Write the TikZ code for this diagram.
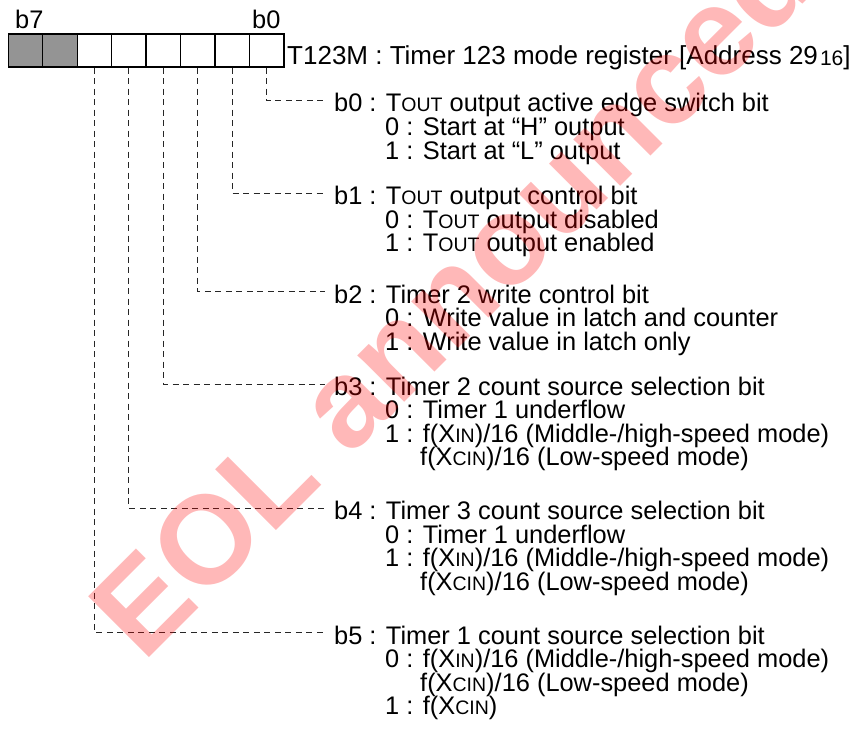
\documentclass[tikz,border=0pt]{standalone}
\usepackage{fontspec}
\setmainfont{Liberation Sans}
\newcommand\smc[1]{{\fontsize{19.5}{19.5}\selectfont #1}}
\begin{document}
\begin{tikzpicture}[x=1pt,y=-1pt,
  cell/.style={draw, line width=1.3pt, minimum width=34.46pt, minimum height=33pt, inner sep=0pt},
  txt/.style={inner sep=0pt, anchor=base west, font=\fontsize{25.4}{28}\selectfont},
  lead/.style={draw=black!85, line width=1pt, dash pattern=on 6pt off 4.5pt},
  wmark/.style={inner sep=0pt, anchor=base west, rotate=45, text=red, opacity=0.28,
    font=\fontsize{125}{125}\selectfont\bfseries}
]
\useasboundingbox (0,0) rectangle (856,733);

% register cells
\foreach \i/\b in {0/7,1/6} {
  \node[cell, fill=black!42] (c\b) at ({8.3+34.46*(\i+0.5)},50.5) {};
}
\foreach \i/\b in {2/5,3/4,4/3,5/2,6/1,7/0} {
  \node[cell, fill=white] (c\b) at ({8.3+34.46*(\i+0.5)},50.5) {};
}
\node[txt] (lb7) at (15,29) {b7};
\node[txt] (lb0) at (252,29) {b0};
\node[txt, font=\fontsize{26}{28}\selectfont] (title) at (287,65) {T123M : Timer 123 mode register [Address 29\kern2pt\raisebox{-1pt}{\fontsize{21}{21}\selectfont 16}]};

% ends of leaders
\coordinate (e0) at (325,101);
\coordinate (e1) at (325,193.3);
\coordinate (e2) at (325,291.7);
\coordinate (e3) at (325,384);
\coordinate (e4) at (325,508.3);
\coordinate (e5) at (325,632.7);
\foreach \b in {0,...,5} { \draw[lead] (c\b.south) |- (e\b); }

% b0
\node[txt] (h0) at (334,112) {b0 : T\smc{OUT} output active edge switch bit};
\node[txt] (h0a) at (385,135.5) {0 : Start at “H” output};
\node[txt] (h0b) at (385,159) {1 : Start at “L” output};
% b1
\node[txt] (h1) at (334,204.5) {b1 : T\smc{OUT} output control bit};
\node[txt] (h1a) at (385,228) {0 : T\smc{OUT} output disabled};
\node[txt] (h1b) at (385,251.5) {1 : T\smc{OUT} output enabled};
% b2
\node[txt] (h2) at (334,303) {b2 : Timer 2 write control bit};
\node[txt] (h2a) at (385,326.5) {0 : Write value in latch and counter};
\node[txt] (h2b) at (385,350) {1 : Write value in latch only};
% b3
\node[txt] (h3) at (334,395) {b3 : Timer 2 count source selection bit};
\node[txt] (h3a) at (385,418.5) {0 : Timer 1 underflow};
\node[txt] (h3b) at (385,442) {1 : f(X\smc{IN})/16 (Middle-/high-speed mode)};
\node[txt] (h3c) at (420,465.5) {f(X\smc{CIN})/16 (Low-speed mode)};
% b4
\node[txt] (h4) at (334,519.5) {b4 : Timer 3 count source selection bit};
\node[txt] (h4a) at (385,543) {0 : Timer 1 underflow};
\node[txt] (h4b) at (385,566.5) {1 : f(X\smc{IN})/16 (Middle-/high-speed mode)};
\node[txt] (h4c) at (420,590) {f(X\smc{CIN})/16 (Low-speed mode)};
% b5
\node[txt] (h5) at (334,644) {b5 : Timer 1 count source selection bit};
\node[txt] (h5a) at (385,667.5) {0 : f(X\smc{IN})/16 (Middle-/high-speed mode)};
\node[txt] (h5b) at (420,691) {f(X\smc{CIN})/16 (Low-speed mode)};
\node[txt] (h5c) at (385,714.5) {1 : f(X\smc{CIN})};

% watermark
\node[wmark] (wm) at (143,664) {EOL announced};
\end{tikzpicture}
\end{document}
